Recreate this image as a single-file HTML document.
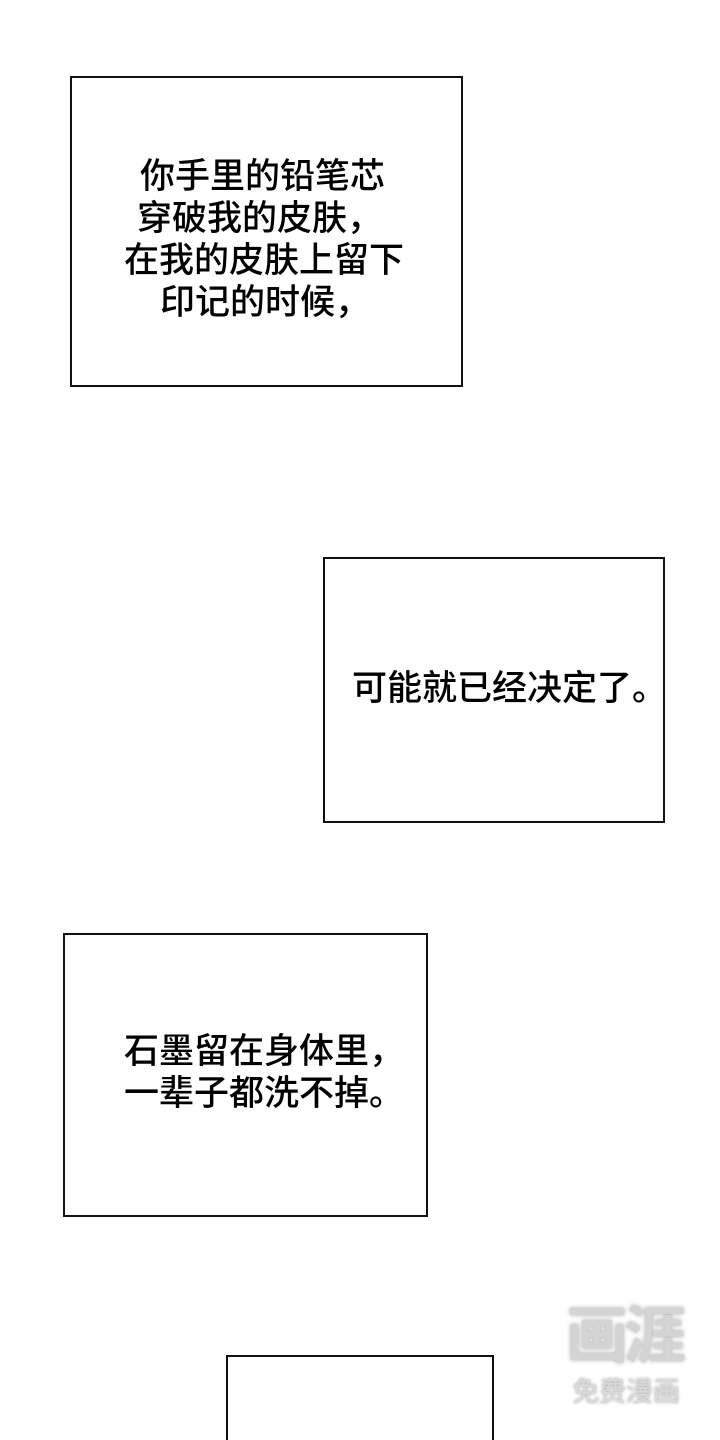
<!DOCTYPE html>
<html><head><meta charset="utf-8"><style>
html{margin:0;padding:0;height:1440px;overflow:hidden;background:#fff;}
body{margin:0;padding:0;width:720px;height:1440px;position:relative;overflow:hidden;background:#fff;font-family:"Liberation Sans","Noto Sans CJK SC",sans-serif;color:#000;}
.b{position:absolute;border:2px solid #111;box-sizing:border-box;background:#fff;}
.t{position:absolute;font-size:35px;line-height:42px;white-space:nowrap;font-weight:500;}
</style></head><body>
<div class="b" style="left:70px;top:76px;width:393px;height:311px"></div>
<div class="t" style="left:140px;top:156px">你手里的铅笔芯</div>
<div class="t" style="left:137px;top:198px">穿破我的皮肤，</div>
<div class="t" style="left:124px;top:240px">在我的皮肤上留下</div>
<div class="t" style="left:160px;top:282px">印记的时候，</div>

<div class="b" style="left:323px;top:557px;width:342px;height:266px"></div>
<div class="t" style="left:352px;top:668px">可能就已经决定了。</div>

<div class="b" style="left:63px;top:933px;width:365px;height:284px"></div>
<div class="t" style="left:124px;top:1031px">石墨留在身体里，</div>
<div class="t" style="left:124px;top:1073px">一辈子都洗不掉。</div>

<div class="b" style="left:226px;top:1355px;width:268px;height:85px;border-bottom:none"></div>

<div style="position:absolute;left:566px;top:1302px;width:130px;height:70px;font-size:62px;line-height:70px;color:#d4d4d4;font-weight:bold;letter-spacing:-4px;text-shadow:0 0 4px #aaa">画涯</div>
<div style="position:absolute;left:572px;top:1377px;font-size:27px;line-height:30px;color:#dadada;text-shadow:0 0 3px #999">免费漫画</div>
</body></html>
